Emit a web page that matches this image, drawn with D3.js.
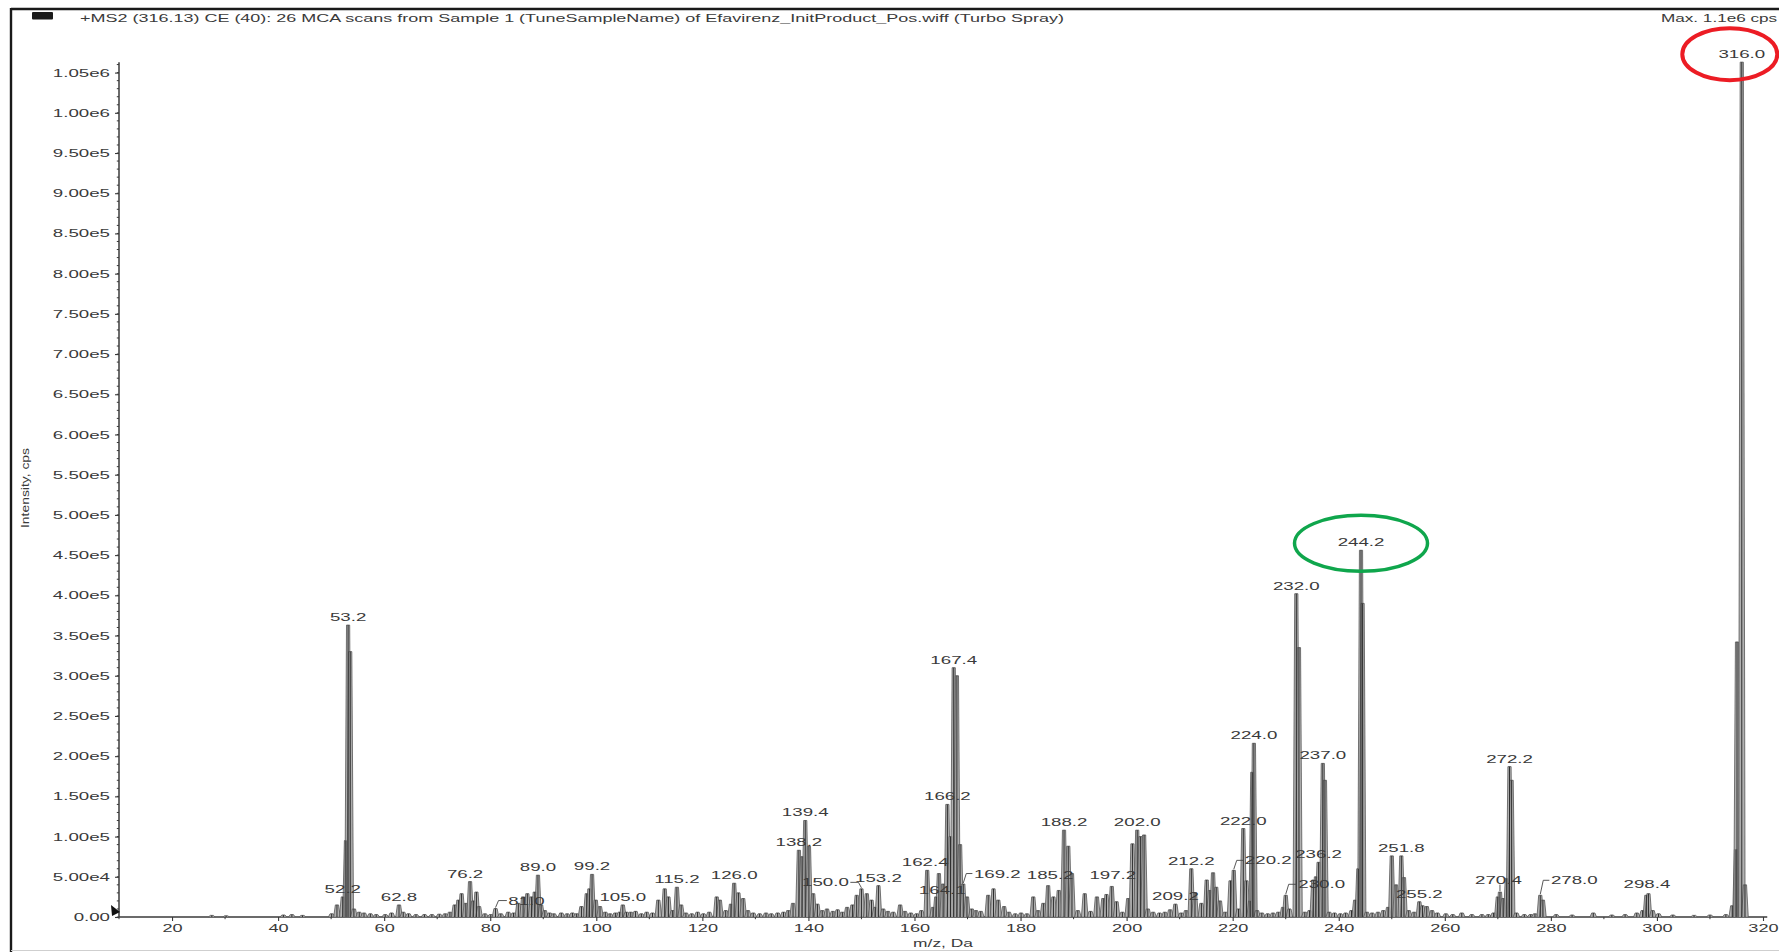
<!DOCTYPE html>
<html>
<head>
<meta charset="utf-8">
<script src="https://cdn.jsdelivr.net/npm/d3@7"></script>
<style>
  html, body { margin: 0; padding: 0; background: #fff; }
  svg { display: block; }
  text { font-family: "Liberation Sans", Arial, sans-serif; fill: #3a3a3a; }
</style>
</head>
<body>
<svg id="chart" width="1779" height="952"></svg>
<script>
// Product-ion spectrum: [m/z (Da), intensity (cps)]
const peaks = [
  [27.5,2000],[30.2,1500],[41.0,2500],[42.6,3000],[44.6,2000],
  [50.1,4000],[51.1,15000],[52.2,25000],[52.8,95000],[53.2,363000],[53.6,330000],[54.3,10000],
  [55.3,6000],[56.2,5000],[57.4,4000],[58.5,3000],[60.2,3000],[61.4,5000],[62.8,15000],[63.6,6000],
  [64.6,4000],[66.0,3000],[67.6,3000],[69.0,3000],[70.4,3500],[71.5,4000],
  [72.4,6000],[73.3,15000],[74.0,21000],[74.6,29000],[75.4,17000],[76.2,44000],[76.8,20000],
  [77.4,31000],[77.9,13000],[79.0,4000],[80.1,3000],[81.0,10500],[82.0,4000],[83.4,6000],
  [84.4,5000],[85.3,17000],[86.2,25000],[87.0,29000],[87.8,25000],[88.4,31000],[89.0,52000],
  [89.6,15000],[90.3,8000],[91.2,5000],[92.0,4000],[93.4,5000],[94.5,4000],[95.5,5000],
  [96.3,4000],[97.2,13000],[98.2,29000],[98.7,35000],[99.2,53000],[99.9,21000],[100.7,13000],
  [101.7,6000],[102.6,4000],[103.6,5000],[104.4,6000],[105.0,15000],[105.7,6000],[106.5,6000],
  [107.4,7000],[108.5,4000],[109.5,6000],[110.6,5000],
  [111.7,21000],[112.9,35000],[113.6,25000],[114.4,8000],[115.2,37000],[116.0,15000],[116.9,5000],
  [118.0,4000],[119.1,6000],[120.2,4000],[121.3,6000],[122.7,25000],[123.3,21000],[124.4,8000],
  [125.4,16000],[126.0,42000],[126.8,30000],[127.7,23000],[128.6,8000],[129.6,5000],[130.8,4000],
  [132.0,5000],[133.0,4000],[134.2,5000],[135.3,6000],[136.2,8000],[137.1,17000],[138.2,83000],
  [138.8,75000],[139.4,120000],[140.1,88000],[140.9,29000],[141.7,16000],[142.6,8000],[143.5,10000],
  [144.6,7000],[145.5,9000],[146.4,6000],[147.3,12000],[148.3,15000],[149.1,27000],[150.0,35000],
  [151.0,29000],[151.9,21000],[152.6,12000],[153.2,39000],[154.1,10000],[155.0,7000],[156.0,6000],
  [157.3,15000],[158.2,7000],[159.3,5000],[160.4,4000],[161.3,8000],[162.4,58000],[163.5,12000],
  [164.1,25000],[164.6,54000],[165.4,41000],[166.2,140000],[166.8,100000],[167.4,310000],
  [168.0,300000],[168.6,90000],[169.2,41000],[169.9,25000],[170.8,10000],[171.6,8000],[172.5,7000],
  [173.9,27000],[174.9,35000],[175.8,21000],[176.9,13000],[177.8,6000],[179.0,4000],[180.1,5000],
  [181.2,4000],[182.4,25000],[183.3,8000],[184.3,17000],[185.2,39000],[186.2,25000],[187.2,33000],
  [188.2,108000],[189.0,88000],[189.7,54000],[190.8,8000],[192.1,29000],[193.2,7000],[194.4,25000],
  [195.6,23000],[196.2,28000],[197.2,38000],[198.1,19000],[199.2,6000],[200.3,23000],[201.1,91000],
  [202.0,108000],[202.6,100000],[203.3,102000],[204.0,10000],[205.0,6000],[206.2,5000],[207.2,6000],
  [208.2,9000],[209.2,16000],[210.3,5000],[211.2,8000],[212.2,60000],[212.9,30000],[214.1,17000],
  [215.1,46000],[215.7,33000],[216.3,55000],[216.9,37000],[217.6,20000],[218.6,6000],[219.6,45000],
  [220.2,58000],[221.1,10000],[222.0,110000],[222.6,45000],[223.3,20000],[223.7,180000],[224.0,216000],
  [224.6,8000],[225.5,5000],[226.6,4000],[227.6,5000],[228.6,6000],[229.5,12000],[230.0,27000],
  [230.7,10000],[232.0,402000],[232.5,335000],[233.6,6000],[234.5,8000],[235.2,46000],[235.7,50000],
  [236.2,68000],[237.0,191000],[237.4,170000],[238.2,6000],[239.2,5000],[240.3,4000],[241.3,5000],
  [242.4,8000],[243.1,21000],[243.7,60000],[244.2,456000],[244.5,390000],[245.3,6000],[246.3,5000],
  [247.4,6000],[248.4,8000],[249.3,12000],[250.0,76000],[250.8,40000],[251.8,76000],[252.3,49000],
  [253.2,8000],[254.2,6000],[255.2,19000],[255.8,14000],[256.6,13000],[257.6,8000],[258.6,5000],
  [260.2,4000],[261.5,3000],[263.2,5000],[265.1,3000],[267.0,3000],[268.2,3000],[269.2,5000],
  [270.0,25000],[270.4,31000],[271.0,23000],[271.7,48000],[272.2,187000],[272.6,170000],[273.5,5000],
  [275.0,3000],[276.2,3000],[277.0,4000],[278.0,27000],[278.5,21000],[281.0,3000],[284.0,2500],
  [288.0,5000],[291.5,2500],[294.0,3000],[296.2,5000],[297.3,8000],[298.0,27000],[298.4,29000],
  [299.2,8000],[300.3,4000],[303.0,2500],[307.0,2000],[310.0,2500],[313.0,3000],[314.2,14000],
  [314.9,84000],[315.1,342000],[316.0,1063000],[316.6,40000]
];

// Peaks carrying an m/z annotation
const labelledMz = [52.2, 53.2, 62.8, 76.2, 81.0, 89.0, 99.2, 105.0, 115.2, 126.0, 138.2, 139.4,
  150.0, 153.2, 162.4, 164.1, 166.2, 167.4, 169.2, 185.2, 188.2, 197.2, 202.0, 209.2, 212.2,
  220.2, 222.0, 224.0, 230.0, 232.0, 236.2, 237.0, 244.2, 251.8, 255.2, 270.4, 272.2, 278.0,
  298.4, 316.0];

// Highlighted annotations (circled)
const circledRed = [316.0];
const circledGreen = [244.2];

// Axis ticks
const yTicks = [0, 5e4, 1e5, 1.5e5, 2e5, 2.5e5, 3e5, 3.5e5, 4e5, 4.5e5, 5e5, 5.5e5, 6e5, 6.5e5,
  7e5, 7.5e5, 8e5, 8.5e5, 9e5, 9.5e5, 1e6, 1.05e6];
const xTicks = [20, 40, 60, 80, 100, 120, 140, 160, 180, 200, 220, 240, 260, 280, 300, 320];

const titleText = "+MS2 (316.13) CE (40): 26 MCA scans from Sample 1 (TuneSampleName) of Efavirenz_InitProduct_Pos.wiff (Turbo Spray)";
const maxText = "Max. 1.1e6 cps";
const xTitle = "m/z, Da";
const yTitle = "Intensity, cps";

// ---- layout -------------------------------------------------------------
const W = 1779, H = 952;
const SX = 1.7;                     // horizontal glyph stretch of the instrument font
const yTop = 1.063e6;               // top of the intensity axis line
const peakBase = 0.62, peakTop = 0.3; // half-widths of a profile peak (Da)

// label nudges in px: [dx, dy, draw leader]
const labelNudge = {
  "76.2": [-5, 0, false],
  "81.0": [31, 0, true],
  "150.0": [-36, 1.5, true],
  "162.4": [-2, 0, false],
  "164.1": [6, 1, false],
  "169.2": [34, -2.5, true],
  "185.2": [2, -3, false],
  "197.2": [1, -3, false],
  "220.2": [34.5, -2, true],
  "230.0": [36, -3, true],
  "270.4": [-1.5, -4.5, true],
  "278.0": [34, -7, true],
  "298.4": [-1.5, -2, false]
};

const svg = d3.select("#chart");

const x = d3.scaleLinear().domain([10, 320]).range([119, 1763]);
const y = d3.scaleLinear().domain([0, 1.05e6]).range([917, 72.6]);

// ---- frame --------------------------------------------------------------
svg.append("line").attr("x1", 11).attr("x2", W).attr("y1", 9).attr("y2", 9)
  .attr("stroke", "#1a1a1a").attr("stroke-width", 2.6);
svg.append("line").attr("x1", 11).attr("x2", 11).attr("y1", 8).attr("y2", H)
  .attr("stroke", "#1a1a1a").attr("stroke-width", 2.4);
svg.append("line").attr("x1", 11).attr("x2", W).attr("y1", 950.5).attr("y2", 950.5)
  .attr("stroke", "#cfcfcf").attr("stroke-width", 1.2);
svg.append("rect").attr("x", 32).attr("y", 12).attr("width", 21).attr("height", 7.5)
  .attr("rx", 1).attr("fill", "#1a1a1a");

svg.append("text").attr("x", 80).attr("y", 21.5)
  .attr("font-size", 10.5).attr("textLength", 984).attr("lengthAdjust", "spacingAndGlyphs")
  .text(titleText);
svg.append("text").attr("transform", `translate(1661,21.5) scale(${SX * 0.96},1)`)
  .attr("font-size", 10.5).text(maxText);

// ---- axes ---------------------------------------------------------------
const fmtY = v => v === 0 ? "0.00" : v.toExponential(2).replace("e+", "e");

const gy = svg.append("g").attr("transform", `translate(${x(10)},0)`)
  .call(d3.axisLeft(y).tickValues(yTicks).tickFormat(fmtY).tickSize(4).tickSizeOuter(0));
gy.select(".domain").remove();
gy.selectAll(".tick line").attr("stroke", "#3a3a3a").attr("stroke-width", 1.1);
gy.selectAll(".tick text")
  .attr("font-family", "Liberation Sans, Arial, sans-serif").attr("font-size", 11)
  .attr("fill", "#3a3a3a").attr("x", -9 / SX).attr("transform", `scale(${SX},1)`);

// minor intensity ticks
gy.selectAll(".minor").data(d3.range(0, yTop, 1e4)).join("line")
  .attr("class", "minor").attr("x1", -2.2).attr("x2", 0)
  .attr("y1", d => y(d)).attr("y2", d => y(d))
  .attr("stroke", "#3a3a3a").attr("stroke-width", 1);

svg.append("line").attr("x1", x(10)).attr("x2", x(10)).attr("y1", y(0)).attr("y2", y(yTop))
  .attr("stroke", "#3a3a3a").attr("stroke-width", 1.5);

const gx = svg.append("g").attr("transform", `translate(0,${y(0)})`)
  .call(d3.axisBottom(x).tickValues(xTicks).tickFormat(d3.format("d")).tickSize(4).tickSizeOuter(0));
gx.select(".domain").remove();
gx.selectAll(".tick line").attr("stroke", "#3a3a3a").attr("stroke-width", 1.1);
gx.selectAll(".tick text")
  .attr("font-family", "Liberation Sans, Arial, sans-serif").attr("font-size", 11)
  .attr("fill", "#3a3a3a").attr("transform", `scale(${SX * 0.97},1)`);
gx.selectAll(".minor").data(d3.range(10, 321, 10).filter(v => v % 20 !== 0)).join("line")
  .attr("class", "minor").attr("x1", d => x(d)).attr("x2", d => x(d)).attr("y1", 0).attr("y2", 2.2)
  .attr("stroke", "#3a3a3a").attr("stroke-width", 1);

svg.append("line").attr("x1", x(10)).attr("x2", x(320.8)).attr("y1", y(0)).attr("y2", y(0))
  .attr("stroke", "#3a3a3a").attr("stroke-width", 1.5);

// origin marker
svg.append("path").attr("d", `M${x(10) - 8},${y(0) - 12} L${x(10) + 1},${y(0) - 5} L${x(10) - 7},${y(0) - 1} Z`)
  .attr("fill", "#111");

// axis titles
svg.append("text").attr("transform", `translate(943,947) scale(1.58,1)`)
  .attr("text-anchor", "middle").attr("font-size", 11).text(xTitle);
svg.append("text").attr("transform", "translate(29,488) rotate(-90)")
  .attr("text-anchor", "middle").attr("font-size", 10.5)
  .attr("textLength", 80).attr("lengthAdjust", "spacingAndGlyphs").text(yTitle);

// ---- spectrum -----------------------------------------------------------
const plot = svg.append("g");
const peakPath = d => {
  const [m, v] = d;
  return `M${x(m - peakBase)},${y(0)} L${x(m - peakTop)},${y(v)} L${x(m + peakTop)},${y(v)} L${x(m + peakBase)},${y(0)}`;
};
plot.selectAll("path.peak").data(peaks).join("path")
  .attr("class", "peak").attr("d", peakPath)
  .attr("fill", "#a3a3a3").attr("fill-opacity", 0.85)
  .attr("stroke", "#555").attr("stroke-width", 0.8);
plot.selectAll("line.stick").data(peaks).join("line")
  .attr("class", "stick")
  .attr("x1", d => x(d[0])).attr("x2", d => x(d[0]))
  .attr("y1", y(0)).attr("y2", d => y(d[1]))
  .attr("stroke", "#2e2e2e").attr("stroke-width", 1);

// ---- peak annotations ---------------------------------------------------
const intensityAt = m => peaks.find(p => Math.abs(p[0] - m) < 1e-6)[1];
const labels = svg.append("g");
labelledMz.forEach(m => {
  const key = m.toFixed(1);
  const v = intensityAt(m);
  const [dx, dy, leader] = labelNudge[key] || [0, 0, false];
  const px = x(m), py = y(v);
  const lx = px + dx, ly = py - 4 + dy;
  const t = labels.append("text")
    .attr("transform", `translate(${lx},${ly}) scale(${SX},1)`)
    .attr("text-anchor", "middle").attr("font-size", 11).text(key);
  if (leader) {
    const half = t.node().getComputedTextLength() * SX / 2;
    const midY = ly - 4;
    let d;
    if (Math.abs(dx) < 5) {
      d = `M${px},${py - 1} L${px},${ly + 1}`;
    } else {
      const edge = dx > 0 ? lx - half - 1.5 : lx + half + 1.5;
      const bend = px + (dx > 0 ? 3 : -3);
      d = `M${px},${py - 1} L${bend},${midY} L${edge},${midY}`;
    }
    labels.append("path").attr("d", d).attr("fill", "none")
      .attr("stroke", "#444").attr("stroke-width", 0.9);
  }
});

// ---- highlight rings ----------------------------------------------------
circledRed.forEach(m => {
  svg.append("ellipse").attr("cx", x(m) - 12).attr("cy", y(intensityAt(m)) - 8)
    .attr("rx", 47.5).attr("ry", 26).attr("fill", "none")
    .attr("stroke", "#ec1c24").attr("stroke-width", 4);
});
circledGreen.forEach(m => {
  svg.append("ellipse").attr("cx", x(m)).attr("cy", y(intensityAt(m)) - 7)
    .attr("rx", 66.5).attr("ry", 28).attr("fill", "none")
    .attr("stroke", "#0fa64c").attr("stroke-width", 3.5);
});
</script>
</body>
</html>
